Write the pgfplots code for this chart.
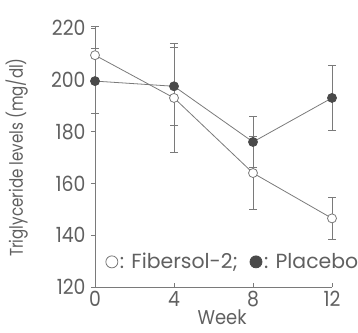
\documentclass[border=0pt]{standalone}
\usepackage{pgfplots}
\pgfplotsset{compat=1.18}
\usepackage{fontspec}
\setmainfont{Poppins}
\newfontfamily\narrowf{Poppins}[FakeStretch=0.9]
\newfontfamily\labf{Poppins}[FakeStretch=0.82]
\definecolor{txt}{HTML}{606060}
\definecolor{ln}{HTML}{7A7A7A}
\definecolor{dk}{HTML}{4A4A4A}
\begin{document}
\begin{tikzpicture}
\begin{axis}[
 name=ax,
 scale only axis, width=237bp, height=259bp,
 xmin=0, xmax=12, ymin=120, ymax=220,
 axis lines=left, axis line style={-, ln, line width=0.8pt},
 xtick={0,4,8,12}, ytick={120,140,...,220},
 tick style={ln, line width=0.8pt}, major tick length=4bp,
 xtick align=inside, ytick align=outside,
 ticklabel style={font=\narrowf\fontsize{21}{23}\selectfont, text=txt},
 yticklabel style={xshift=-2bp},
 xticklabel style={yshift=-1bp},
 /pgf/number format/assume math mode=true,
 xlabel={Week}, ylabel={Triglyceride levels (mg/dl)},
 xlabel style={font=\narrowf\fontsize{20}{22}\selectfont, text=txt,
   at={(axis description cs:0.536,-0.118)}, anchor=center},
 ylabel style={font=\labf\fontsize{18.5}{20}\selectfont, text=txt,
   at={(axis description cs:-0.33,0.5)}, anchor=center},
 clip=false,
 legend style={draw=none, fill=none, at={(0.045,0.097)}, anchor=west,
   font=\fontsize{20.5}{22}\selectfont, text=txt, inner sep=0pt,
   /tikz/every even column/.append style={column sep=10bp}},
 legend columns=2,
 legend image code/.code={\draw[#1, mark size=6bp] plot coordinates {(0.2cm,0cm)};},
 error bars/error bar style={ln, line width=0.8pt},
 error bars/error mark options={rotate=90, mark size=4bp, ln, line width=0.8pt},
]
\addplot[ln, line width=0.8pt, mark=*, mark size=4.5bp, mark options={fill=white, draw=ln},
  error bars/.cd, y dir=both, y explicit]
 coordinates {(0,209.5) +- (0,11) (4,193) +- (0,21) (8,164) +- (0,14) (12,146.5) +- (0,8)};
\addlegendentry{: Fibersol-2;}
\addplot[ln, line width=0.8pt, mark=*, mark size=4.5bp, mark options={fill=dk, draw=dk},
  error bars/.cd, y dir=both, y explicit]
 coordinates {(0,199.5) +- (0,12.5) (4,197.5) +- (0,15) (8,176) +- (0,10) (12,193) +- (0,12.5)};
\addlegendentry{: Placebo}
\end{axis}
\pgfresetboundingbox
\path[use as bounding box] ([shift={(-95bp,-46bp)}]ax.south west) rectangle ([shift={(26bp,28bp)}]ax.north east);
\end{tikzpicture}
\end{document}
